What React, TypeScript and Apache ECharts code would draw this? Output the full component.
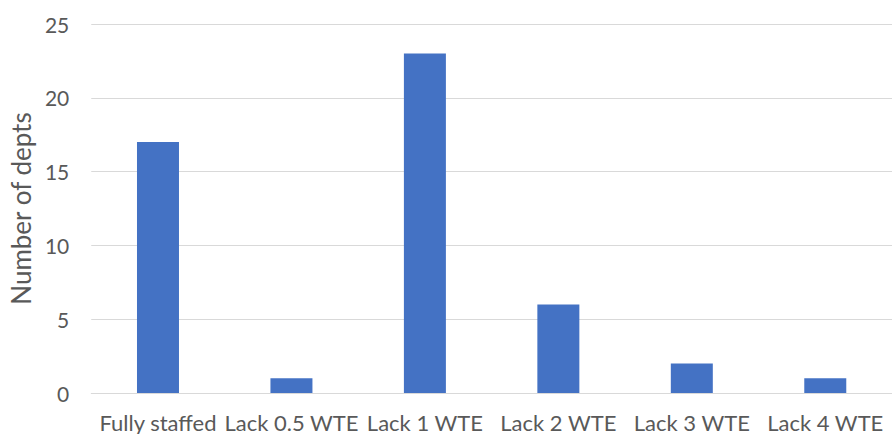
import React, { useEffect, useRef } from "react";
import * as echarts from "echarts";

const categories = [
  "Fully staffed",
  "Lack 0.5 WTE",
  "Lack 1 WTE",
  "Lack 2 WTE",
  "Lack 3 WTE",
  "Lack 4 WTE",
];
const depts = [17, 1, 23, 6, 2, 1];
const yTicks = { min: 0, max: 25, interval: 5 };

const FONT = "Lato, 'Open Sans', sans-serif";
const TEXT = "#595959";

export default function App() {
  const ref = useRef<HTMLDivElement>(null);

  useEffect(() => {
    if (!ref.current) return;
    const chart = echarts.init(ref.current, undefined, { renderer: "svg" });
    chart.setOption({
      animation: false,
      backgroundColor: "#ffffff",
      grid: { left: 90, right: -8, top: 24, bottom: 41, containLabel: false },
      xAxis: {
        type: "category",
        data: categories,
        axisLine: { show: true, lineStyle: { color: "#d9d9d9", width: 1 } },
        axisTick: { show: false },
        axisLabel: {
          color: TEXT,
          fontFamily: FONT,
          fontSize: 22,
          margin: 18,
          interval: 0,
        },
      },
      yAxis: {
        type: "value",
        min: yTicks.min,
        max: yTicks.max,
        interval: yTicks.interval,
        name: "Number of depts",
        nameLocation: "middle",
        nameGap: 56,
        nameTextStyle: { color: TEXT, fontFamily: FONT, fontSize: 26 },
        axisLine: { show: false },
        axisTick: { show: false },
        axisLabel: { color: TEXT, fontFamily: FONT, fontSize: 21, margin: 22 },
        splitLine: { lineStyle: { color: "#d9d9d9", width: 1 } },
      },
      series: [
        {
          type: "bar",
          data: depts,
          barWidth: 42,
          itemStyle: { color: "#4472c4" },
        },
      ],
    });
    return () => chart.dispose();
  }, []);

  return (
    <div
      ref={ref}
      style={{ width: 892, height: 434, position: "absolute", left: 0, top: 0 }}
    />
  );
}
